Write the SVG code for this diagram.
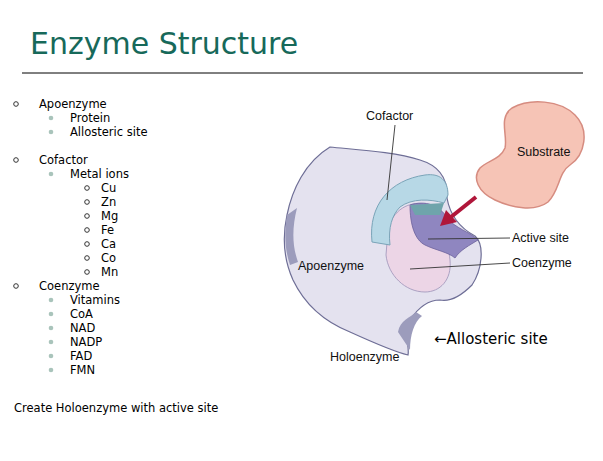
<svg xmlns="http://www.w3.org/2000/svg" width="603" height="461" viewBox="0 0 603 461">
<style>
.b{font-family:"DejaVu Sans",Verdana,sans-serif;font-size:11.5px;fill:#000}
.l{font-family:"Liberation Sans",Arial,sans-serif;font-size:12.5px;fill:#111}
.c{fill:none;stroke:#333;stroke-width:1}
.d{fill:#a9c4bb}
.ln{stroke:#333;stroke-width:0.9}
</style>
<rect width="603" height="461" fill="#fff"/>
<text x="30" y="54" font-family="DejaVu Sans,Verdana,sans-serif" font-size="30" fill="#17695a">Enzyme Structure</text>
<line x1="22" y1="73" x2="583" y2="73" stroke="#000" stroke-width="1"/>
<g id="bullets">
<circle class="c" cx="16" cy="104" r="2.3"/><text class="b" x="39" y="108">Apoenzyme</text>
<circle class="d" cx="51" cy="118" r="2.3"/><text class="b" x="70" y="122">Protein</text>
<circle class="d" cx="51" cy="132" r="2.3"/><text class="b" x="70" y="136">Allosteric site</text>
<circle class="c" cx="16" cy="160" r="2.3"/><text class="b" x="39" y="164">Cofactor</text>
<circle class="d" cx="51" cy="174" r="2.3"/><text class="b" x="70" y="178">Metal ions</text>
<circle class="c" cx="87" cy="188" r="2.3"/><text class="b" x="101" y="192">Cu</text>
<circle class="c" cx="87" cy="202" r="2.3"/><text class="b" x="101" y="206">Zn</text>
<circle class="c" cx="87" cy="216" r="2.3"/><text class="b" x="101" y="220">Mg</text>
<circle class="c" cx="87" cy="230" r="2.3"/><text class="b" x="101" y="234">Fe</text>
<circle class="c" cx="87" cy="244" r="2.3"/><text class="b" x="101" y="248">Ca</text>
<circle class="c" cx="87" cy="258" r="2.3"/><text class="b" x="101" y="262">Co</text>
<circle class="c" cx="87" cy="272" r="2.3"/><text class="b" x="101" y="276">Mn</text>
<circle class="c" cx="16" cy="286" r="2.3"/><text class="b" x="39" y="290">Coenzyme</text>
<circle class="d" cx="51" cy="300" r="2.3"/><text class="b" x="70" y="304">Vitamins</text>
<circle class="d" cx="51" cy="314" r="2.3"/><text class="b" x="70" y="318">CoA</text>
<circle class="d" cx="51" cy="328" r="2.3"/><text class="b" x="70" y="332">NAD</text>
<circle class="d" cx="51" cy="342" r="2.3"/><text class="b" x="70" y="346">NADP</text>
<circle class="d" cx="51" cy="356" r="2.3"/><text class="b" x="70" y="360">FAD</text>
<circle class="d" cx="51" cy="370" r="2.3"/><text class="b" x="70" y="374">FMN</text>
<text class="b" x="14" y="412">Create Holoenzyme with active site</text>
</g>
<g id="apoenzyme">
<path d="M330,147 C360,150 395,152 420,160 C440,166 448,180 447,198 C450,215 460,228 475,236 C485,245 482,270 472,285 C462,295 450,302 440,300 C428,300 418,308 410,320 C402,330 410,345 408,355 C395,352 372,342 350,332 C325,322 305,305 293,280 C284,260 282,238 287,215 C292,190 305,162 330,147 Z" fill="#e4e2ef" stroke="#6e6e96" stroke-width="1.2"/>
<path d="M287,215 C284,235 285,250 290,265 L298,262 C292,245 292,228 297,208 Z" fill="#9c9cbc"/>
<path d="M398,332 C400,320 410,318 416,312 L422,316 C414,322 410,335 410,350 Z" fill="#9c9cbc"/>
</g>
<g id="coenzyme"><path d="M388,230 C392,210 410,200 425,205 C440,215 448,240 450,260 C452,280 440,292 425,292 C405,292 388,275 386,255 Z" fill="#ecd5e6" stroke="#9c92b8" stroke-width="0.8"/></g>
<g id="activesite"><path d="M410,205 C425,200 440,205 447,218 C455,228 470,232 478,240 C470,245 460,250 455,258 C448,252 435,250 425,245 C415,240 410,225 410,205 Z" fill="#8f86c0" stroke="#6c629c" stroke-width="0.8"/></g>
<g id="cofactor"><path d="M372,242 C368,205 390,180 425,175 C440,173 448,180 448,195 L444,203 C430,199 412,198 400,207 C392,215 388,228 390,245 Z" fill="#b7d8e6" stroke="#7aa4b8" stroke-width="1"/>
<path d="M410,205 L444,203 L440,215 L415,215 Z" fill="#6fa4ab"/></g>
<g id="substrate"><path d="M512,108 C530,98 560,100 575,115 C590,130 585,155 570,165 C558,173 560,190 548,202 C535,212 512,208 495,200 C478,192 472,178 480,168 C488,160 500,160 505,148 C508,135 498,118 512,108 Z" fill="#f6c4b6" stroke="#d68c80" stroke-width="1.5"/></g>
<g id="connectors">
<line x1="476" y1="197" x2="451" y2="217" stroke="#b0163a" stroke-width="4"/>
<polygon points="440,226 446,210 457,222" fill="#b0163a"/>
<line class="ln" x1="395" y1="125" x2="387" y2="200"/>
<line class="ln" x1="428" y1="239" x2="510" y2="238"/>
<line class="ln" x1="410" y1="269" x2="510" y2="263"/>
</g>
<g id="labels">
<text class="l" x="366" y="120">Cofactor</text>
<text class="l" x="517" y="156">Substrate</text>
<text class="l" x="512" y="242">Active site</text>
<text class="l" x="512" y="267">Coenzyme</text>
<text class="l" x="298" y="270">Apoenzyme</text>
<text class="l" x="330" y="361">Holoenzyme</text>
<text x="434" y="344" font-family="DejaVu Sans,Verdana,sans-serif" font-size="15" fill="#000">←Allosteric site</text>
</g>
</svg>
